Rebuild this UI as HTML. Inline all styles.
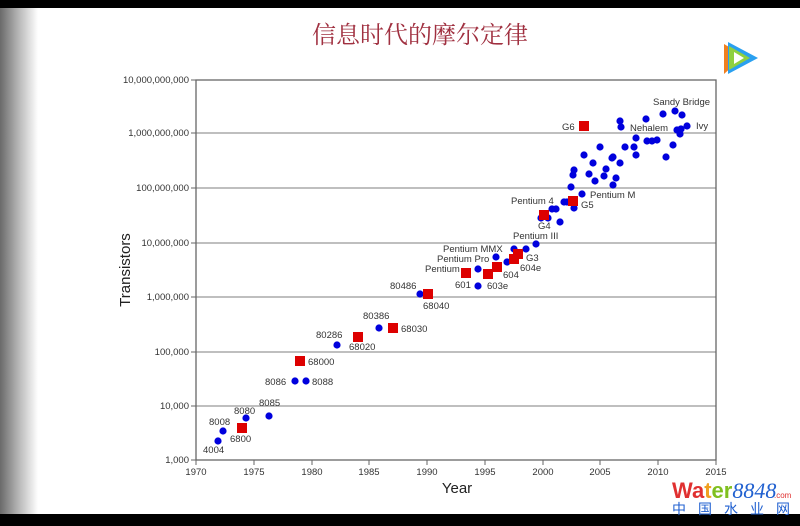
<!DOCTYPE html>
<html><head><meta charset="utf-8"><style>
html,body{margin:0;padding:0;width:800px;height:526px;overflow:hidden;background:#fff}
</style></head><body>
<svg width="800" height="526" xmlns="http://www.w3.org/2000/svg" font-family="Liberation Sans, sans-serif">
<defs><linearGradient id="lg" x1="0" x2="1"><stop offset="0" stop-color="#6a6a6a"/><stop offset="0.5" stop-color="#b8b8b8"/><stop offset="1" stop-color="#fff"/></linearGradient></defs>
<rect width="800" height="526" fill="#fff"/>
<rect x="0" y="0" width="38" height="526" fill="url(#lg)"/>
<rect x="0" y="0" width="800" height="8" fill="#000"/>
<rect x="0" y="514" width="800" height="12" fill="#000"/>
<text x="420" y="43" font-family="Noto Serif CJK SC, serif" font-size="24" fill="#a03040" text-anchor="middle">信息时代的摩尔定律</text>
<!-- logo -->
<path d="M724 44 L744 56 L724 74 Z" fill="#f08020"/>
<path d="M728 42 L758 58 L728 74 Z" fill="#2aa0f0"/>
<path d="M729 46 L750 58 L729 70 Z" fill="#8fd040"/>
<path d="M734 52 L744 58 L734 64 Z" fill="#fff"/>
<!-- grid -->
<g stroke="#999" stroke-width="1.2">
<line x1="196" y1="133" x2="716" y2="133"/><line x1="196" y1="188" x2="716" y2="188"/>
<line x1="196" y1="243" x2="716" y2="243"/><line x1="196" y1="297" x2="716" y2="297"/>
<line x1="196" y1="352" x2="716" y2="352"/><line x1="196" y1="406" x2="716" y2="406"/>
</g>
<rect x="196" y="80" width="520" height="380" fill="none" stroke="#666" stroke-width="1.3"/>
<g stroke="#666" stroke-width="1">
<line x1="191" y1="80" x2="196" y2="80"/><line x1="191" y1="133" x2="196" y2="133"/><line x1="191" y1="188" x2="196" y2="188"/><line x1="191" y1="243" x2="196" y2="243"/><line x1="191" y1="297" x2="196" y2="297"/><line x1="191" y1="352" x2="196" y2="352"/><line x1="191" y1="406" x2="196" y2="406"/><line x1="191" y1="460" x2="196" y2="460"/>
<line x1="196" y1="460" x2="196" y2="465"/><line x1="254" y1="460" x2="254" y2="465"/><line x1="312" y1="460" x2="312" y2="465"/><line x1="369" y1="460" x2="369" y2="465"/><line x1="427" y1="460" x2="427" y2="465"/><line x1="485" y1="460" x2="485" y2="465"/><line x1="543" y1="460" x2="543" y2="465"/><line x1="600" y1="460" x2="600" y2="465"/><line x1="658" y1="460" x2="658" y2="465"/><line x1="716" y1="460" x2="716" y2="465"/>
</g>
<g font-size="9.5" fill="#333" text-anchor="end">
<text x="189" y="83">10,000,000,000</text><text x="189" y="136">1,000,000,000</text><text x="189" y="191">100,000,000</text><text x="189" y="246">10,000,000</text><text x="189" y="300">1,000,000</text><text x="189" y="355">100,000</text><text x="189" y="409">10,000</text><text x="189" y="463">1,000</text>
</g>
<g font-size="9.5" fill="#333" text-anchor="middle">
<text x="196" y="475">1970</text><text x="254" y="475">1975</text><text x="312" y="475">1980</text><text x="369" y="475">1985</text><text x="427" y="475">1990</text><text x="485" y="475">1995</text><text x="543" y="475">2000</text><text x="600" y="475">2005</text><text x="658" y="475">2010</text><text x="716" y="475">2015</text>
</g>
<text x="457" y="493" font-size="15" fill="#222" text-anchor="middle">Year</text>
<text transform="translate(130,270) rotate(-90)" font-size="15" fill="#222" text-anchor="middle">Transistors</text>
<g fill="#0000dd">
<circle cx="218" cy="441" r="3.6"/><circle cx="223" cy="431" r="3.6"/><circle cx="246" cy="418" r="3.6"/><circle cx="269" cy="416" r="3.6"/><circle cx="295" cy="381" r="3.6"/><circle cx="306" cy="381" r="3.6"/><circle cx="337" cy="345" r="3.6"/><circle cx="379" cy="328" r="3.6"/><circle cx="420" cy="294" r="3.6"/>
<circle cx="478" cy="269" r="3.6"/><circle cx="478" cy="286" r="3.6"/><circle cx="496" cy="257" r="3.6"/><circle cx="507" cy="262" r="3.6"/><circle cx="514" cy="249" r="3.6"/><circle cx="526" cy="249" r="3.6"/><circle cx="536" cy="244" r="3.6"/>
<circle cx="541" cy="218" r="3.6"/><circle cx="548" cy="218" r="3.6"/><circle cx="560" cy="222" r="3.6"/><circle cx="552" cy="209" r="3.6"/><circle cx="556" cy="209" r="3.6"/><circle cx="574" cy="208" r="3.6"/><circle cx="564" cy="202" r="3.6"/><circle cx="567" cy="202" r="3.6"/><circle cx="582" cy="194" r="3.6"/><circle cx="571" cy="187" r="3.6"/><circle cx="613" cy="185" r="3.6"/><circle cx="595" cy="181" r="3.6"/><circle cx="616" cy="178" r="3.6"/><circle cx="604" cy="176" r="3.6"/><circle cx="589" cy="174" r="3.6"/><circle cx="573" cy="175" r="3.6"/><circle cx="574" cy="170" r="3.6"/><circle cx="606" cy="169" r="3.6"/><circle cx="593" cy="163" r="3.6"/><circle cx="620" cy="163" r="3.6"/><circle cx="612" cy="158" r="3.6"/><circle cx="613" cy="157" r="3.6"/><circle cx="584" cy="155" r="3.6"/><circle cx="600" cy="147" r="3.6"/><circle cx="625" cy="147" r="3.6"/><circle cx="634" cy="147" r="3.6"/><circle cx="636" cy="155" r="3.6"/><circle cx="636" cy="138" r="3.6"/><circle cx="647" cy="141" r="3.6"/><circle cx="652" cy="141" r="3.6"/><circle cx="657" cy="140" r="3.6"/><circle cx="673" cy="145" r="3.6"/><circle cx="666" cy="157" r="3.6"/><circle cx="620" cy="121" r="3.6"/><circle cx="621" cy="127" r="3.6"/><circle cx="646" cy="119" r="3.6"/><circle cx="663" cy="114" r="3.6"/><circle cx="675" cy="111" r="3.6"/><circle cx="682" cy="115" r="3.6"/><circle cx="687" cy="126" r="3.6"/><circle cx="677" cy="130" r="3.6"/><circle cx="680" cy="134" r="3.6"/><circle cx="681" cy="129" r="3.6"/>
</g>
<g fill="#dd0000">
<rect x="237" y="423" width="10" height="10"/><rect x="295" y="356" width="10" height="10"/><rect x="353" y="332" width="10" height="10"/><rect x="388" y="323" width="10" height="10"/><rect x="423" y="289" width="10" height="10"/><rect x="461" y="268" width="10" height="10"/><rect x="483" y="269" width="10" height="10"/><rect x="492" y="262" width="10" height="10"/><rect x="509" y="254" width="10" height="10"/><rect x="513" y="249" width="10" height="10"/><rect x="539" y="210" width="10" height="10"/><rect x="568" y="196" width="10" height="10"/><rect x="579" y="121" width="10" height="10"/>
</g>
<g font-size="9.5" fill="#333">
<text x="203" y="453">4004</text><text x="209" y="425">8008</text><text x="234" y="414">8080</text><text x="259" y="406">8085</text><text x="230" y="442">6800</text><text x="265" y="385">8086</text><text x="312" y="385">8088</text><text x="308" y="365">68000</text><text x="316" y="338">80286</text><text x="349" y="350">68020</text><text x="363" y="319">80386</text><text x="401" y="332">68030</text><text x="390" y="289">80486</text><text x="423" y="309">68040</text>
<text x="425" y="272">Pentium</text><text x="455" y="288">601</text><text x="487" y="289">603e</text><text x="503" y="278">604</text><text x="520" y="271">604e</text><text x="526" y="261">G3</text><text x="437" y="262">Pentium Pro</text><text x="443" y="252">Pentium MMX</text><text x="513" y="239">Pentium III</text><text x="538" y="229">G4</text><text x="511" y="204">Pentium 4</text><text x="581" y="208">G5</text><text x="590" y="198">Pentium M</text><text x="562" y="130">G6</text><text x="630" y="131">Nehalem</text><text x="653" y="105">Sandy Bridge</text><text x="696" y="129">Ivy</text>
</g>
<text x="672" y="498" font-size="22" font-weight="bold" font-family="Liberation Sans, sans-serif"><tspan fill="#e03030">Wa</tspan><tspan fill="#f0a020">t</tspan><tspan fill="#80c020">er</tspan><tspan fill="#2060d0" font-style="italic" font-weight="normal" font-family="Liberation Serif, serif">8848</tspan></text>
<text x="774" y="498" font-size="8" fill="#e03030">.com</text>
<text x="672" y="514" font-size="14" fill="#2060d0" font-family="Noto Sans CJK SC, sans-serif" letter-spacing="12">中国水业网</text>
</svg>
</body></html>
